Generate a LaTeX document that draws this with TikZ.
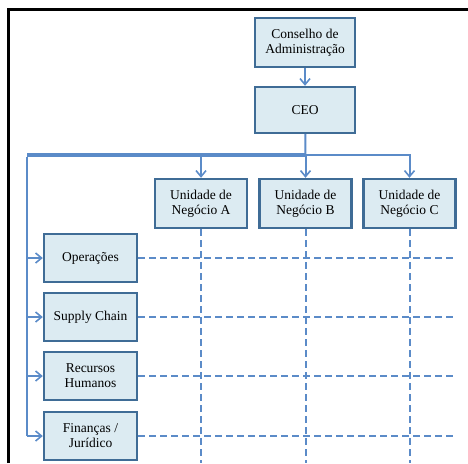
\documentclass[tikz,border=0pt]{standalone}
\usepackage{fontspec}
\setmainfont{Liberation Serif}
\usepackage{tikz}
\usetikzlibrary{arrows.meta}

\definecolor{boxfill}{HTML}{DCEBF2}
\definecolor{boxedge}{HTML}{3F6C96}
\definecolor{linkblue}{HTML}{5B8BC8}

\begin{document}
\begin{tikzpicture}[x=1pt, y=-1pt,
        unitbox/.style={draw=boxedge, fill=boxfill, line width=2.4pt, align=center,
            minimum width=92pt, minimum height=49pt, inner sep=0pt,
            font=\fontsize{13.5}{15}\selectfont},
        conn/.style={draw=linkblue, line width=2pt},
        tip/.style={-{Straight Barb[length=6pt, width=10pt, line width=1.6pt]}},
        matrixline/.style={draw=linkblue, line width=2pt, dash pattern=on 7pt off 4pt}]
        \useasboundingbox (0,0) rectangle (468,463);
        % frame of the slide
        \draw [line width=3pt] (8,463) -- (8,9) -- (468,9);

        \node [unitbox, minimum width=100pt] (conselho) at (305,42.5) {Conselho de\\Administração};
        \node [unitbox, minimum width=100pt, minimum height=46pt] (ceo) at (305,110) {CEO};

        \node [unitbox] (ua) at (201,203.5) {Unidade de\\Negócio A};
        \node [unitbox] (ub) at (305.5,203.5) {Unidade de\\Negócio B};
        \node [unitbox] (uc) at (409.5,203.5) {Unidade de\\Negócio C};

        \node [unitbox, minimum width=93pt, minimum height=48pt] (op) at (90.5,258) {Operações};
        \node [unitbox, minimum width=93pt, minimum height=48pt] (sc) at (90.5,317) {Supply Chain};
        \node [unitbox, minimum width=93pt, minimum height=48pt] (rh) at (90.5,376) {Recursos\\Humanos};
        \node [unitbox, minimum width=93pt, minimum height=48pt] (fj) at (90.5,436) {Finanças /\\Jurídico};

        \coordinate (busU) at (305.5,155);
        \coordinate (busF) at (27,156.5);
        \coordinate (rEnd) at (456,0);
        \coordinate (bot) at (0,463);

        % matrix lines
        \foreach \u in {ua, ub, uc}
            \draw [matrixline] (\u.south) -- (\u.south |- bot);
        \foreach \f in {op, sc, rh, fj}
            \draw [matrixline] (\f.east) -- (\f.east -| rEnd);

        \draw [conn, tip] (conselho) -- (ceo);
        \draw [conn] (ceo) -- (busU);
        \draw [conn, tip] (busU) -| (ua);
        \draw [conn, tip] (busU) -- (ub);
        \draw [conn, tip] (busU) -| (uc);

        \draw [conn, line width=4pt] (busU) -- (busU -| busF);
        \draw [conn] (busF) -- (busF |- fj);
        \foreach \f in {op, sc, rh, fj}
            \draw [conn, tip] (busF |- \f) -- (\f);
\end{tikzpicture}
\end{document}
